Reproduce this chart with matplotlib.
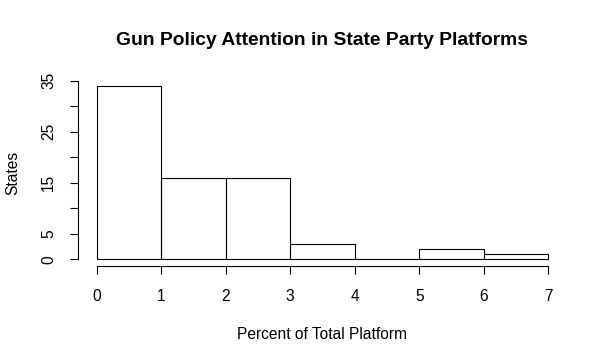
import numpy as np
import matplotlib
matplotlib.use("Agg")
from matplotlib import pyplot as plt

# Histogram bins and counts
bin_edges = [0, 1, 2, 3, 4, 5, 6, 7]
state_counts = [34, 16, 16, 3, 0, 2, 1]
y_ticks = [0, 5, 10, 15, 20, 25, 30, 35]
y_tick_labels = ["0", "5", "", "15", "", "25", "", "35"]
x_ticks = [0, 1, 2, 3, 4, 5, 6, 7]

plt.rcParams["font.family"] = ["Liberation Sans", "DejaVu Sans"]

fig = plt.figure(figsize=(6.07, 3.64), dpi=100)
ax = fig.add_axes([0.1293, 0.2681, 0.9331 - 0.1293, 0.783 - 0.2681])

lefts = np.array(bin_edges[:-1])
widths = np.diff(bin_edges)
ax.bar(lefts, state_counts, width=widths, align="edge", fill=False,
       edgecolor="black", linewidth=0.8)

# R-style 4% padding around the data range
xr = bin_edges[-1] - bin_edges[0]
ax.set_xlim(bin_edges[0] - 0.04 * xr, bin_edges[-1] + 0.04 * xr)
yr = max(state_counts)
ax.set_ylim(-0.04 * yr, yr + 0.04 * yr)

for side in ["top", "right"]:
    ax.spines[side].set_visible(False)
ax.spines["left"].set_bounds(0, 35)
ax.spines["bottom"].set_bounds(0, 7)
for side in ["left", "bottom"]:
    ax.spines[side].set_linewidth(0.8)

ax.set_xticks(x_ticks)
ax.set_xticklabels([str(t) for t in x_ticks])
ax.set_yticks(y_ticks)
ax.set_yticklabels(y_tick_labels, rotation=90, ha="right", va="center")
ax.tick_params(axis="both", direction="out", length=6, width=0.8,
               labelsize=11.2, pad=10)

ax.set_xlabel("Percent of Total Platform", fontsize=11.2, labelpad=17)
ax.set_ylabel("States", fontsize=11.2, labelpad=15)
fig.text(0.531, 0.89, "Gun Policy Attention in State Party Platforms",
         ha="center", va="center", fontsize=13.9, fontweight="bold")

fig.savefig("out.png", dpi=100)
